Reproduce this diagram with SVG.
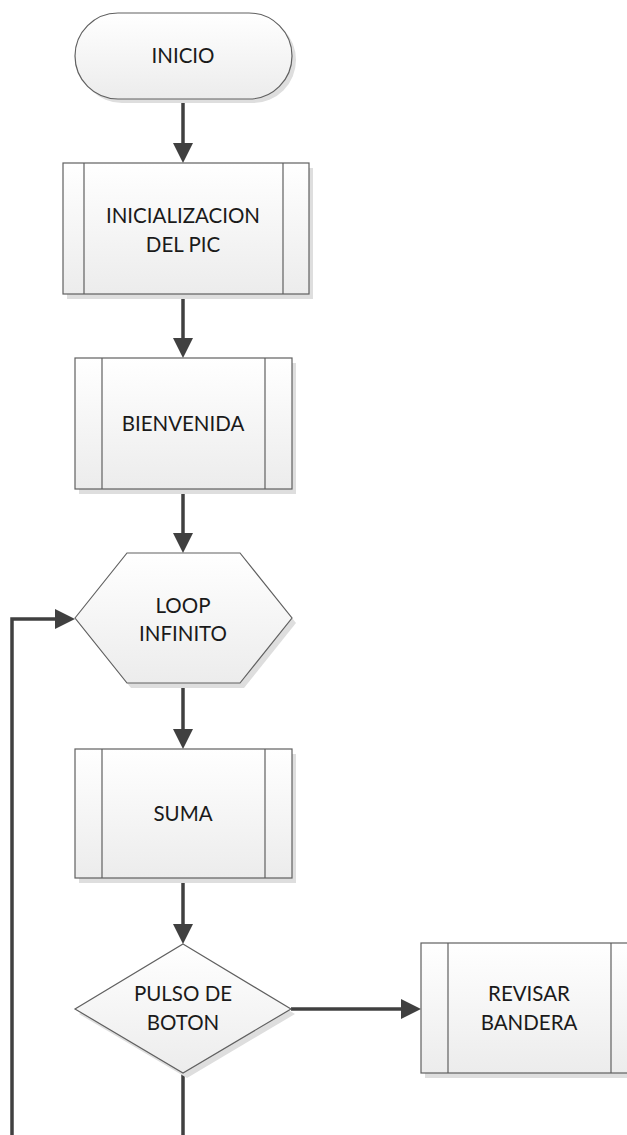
<svg xmlns="http://www.w3.org/2000/svg" width="627" height="1135" viewBox="0 0 627 1135">
  <defs>
    <linearGradient id="fillGrad" x1="0" y1="0" x2="0" y2="1">
      <stop offset="0" stop-color="#ffffff"/>
      <stop offset="1" stop-color="#ececec"/>
    </linearGradient>
    <marker id="arrow" markerUnits="userSpaceOnUse" markerWidth="20" markerHeight="20" refX="3" refY="10" orient="auto">
      <path d="M0,0 L20,10 L0,20 z" fill="#404040"/>
    </marker>
  </defs>
  <style>
    .shadow { fill: #dedede; stroke: none; }
    .shape { fill: url(#fillGrad); stroke: #606060; stroke-width: 1.2; }
    .bar { fill: none; stroke: #606060; stroke-width: 1.2; }
    .label { font-family: Lato, "Open Sans", "Liberation Sans", sans-serif; font-size: 20.5px; font-weight: 400; fill: #1a1a1a; text-anchor: middle; }
    .flow { fill: none; stroke: #404040; stroke-width: 3.5; marker-end: url(#arrow); }
  </style>

  <!-- connectors -->
  <g id="connectors">
    <path class="flow" d="M183,99 V146"/>
    <path class="flow" d="M183,294 V341"/>
    <path class="flow" d="M183,489 V536"/>
    <path class="flow" d="M183,683 V732"/>
    <path class="flow" d="M183,878 V927"/>
    <path class="flow" d="M291,1009 H404"/>
    <path class="flow" d="M183,1073 V1170 H12 V619 H58"/>
  </g>

  <!-- start terminator -->
  <g id="inicio">
    <rect class="shadow" x="79" y="17" width="217" height="86" rx="43"/>
    <rect class="shape" x="75" y="13" width="217" height="86" rx="43"/>
    <text class="label" x="183" y="63">INICIO</text>
  </g>

  <!-- predefined process: PIC setup -->
  <g id="inicializacion">
    <rect class="shadow" x="67" y="168" width="246" height="131"/>
    <rect class="shape" x="63" y="163" width="246" height="131"/>
    <line class="bar" x1="84" y1="163" x2="84" y2="294"/>
    <line class="bar" x1="283" y1="163" x2="283" y2="294"/>
    <text class="label" x="183" y="223">INICIALIZACION</text>
    <text class="label" x="183" y="252">DEL PIC</text>
  </g>

  <!-- predefined process: welcome -->
  <g id="bienvenida">
    <rect class="shadow" x="79" y="363" width="217" height="131"/>
    <rect class="shape" x="75" y="358" width="217" height="131"/>
    <line class="bar" x1="102" y1="358" x2="102" y2="489"/>
    <line class="bar" x1="265" y1="358" x2="265" y2="489"/>
    <text class="label" x="183" y="431">BIENVENIDA</text>
  </g>

  <!-- preparation hexagon: main loop -->
  <g id="loop">
    <polygon class="shadow" points="79,623 131,558 244,558 296,623 244,688 131,688"/>
    <polygon class="shape" points="75,618 127,553 240,553 292,618 240,683 127,683"/>
    <text class="label" x="183" y="613">LOOP</text>
    <text class="label" x="183" y="641">INFINITO</text>
  </g>

  <!-- predefined process: sum -->
  <g id="suma">
    <rect class="shadow" x="79" y="754" width="217" height="129"/>
    <rect class="shape" x="75" y="749" width="217" height="129"/>
    <line class="bar" x1="102" y1="749" x2="102" y2="878"/>
    <line class="bar" x1="265" y1="749" x2="265" y2="878"/>
    <text class="label" x="183" y="821">SUMA</text>
  </g>

  <!-- decision: button press -->
  <g id="pulso">
    <polygon class="shadow" points="187,949 295,1014 187,1078 79,1014"/>
    <polygon class="shape" points="183,944 291,1009 183,1073 75,1009"/>
    <text class="label" x="183" y="1001">PULSO DE</text>
    <text class="label" x="183" y="1030">BOTON</text>
  </g>

  <!-- predefined process: check flag -->
  <g id="revisar">
    <rect class="shadow" x="425" y="948" width="217" height="130"/>
    <rect class="shape" x="421" y="943" width="217" height="130"/>
    <line class="bar" x1="448" y1="943" x2="448" y2="1073"/>
    <line class="bar" x1="611" y1="943" x2="611" y2="1073"/>
    <text class="label" x="529" y="1001">REVISAR</text>
    <text class="label" x="529" y="1030">BANDERA</text>
  </g>
</svg>
